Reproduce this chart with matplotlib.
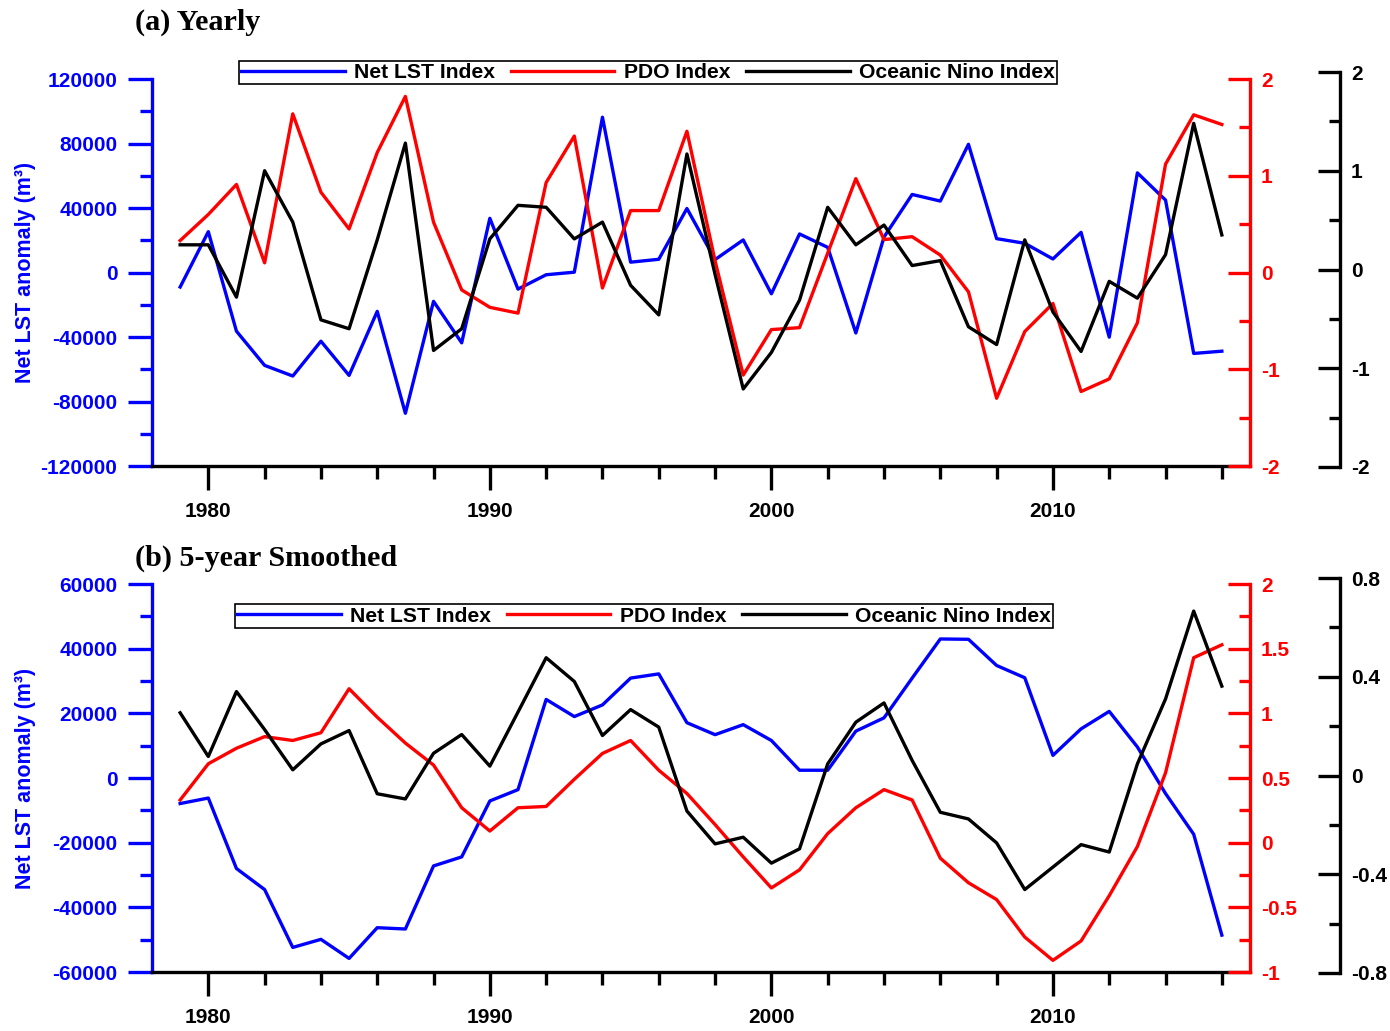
import numpy as np
import matplotlib.pyplot as plt
from matplotlib.ticker import MultipleLocator, FixedLocator, StrMethodFormatter

plt.rcParams['font.family'] = ['Liberation Sans', 'DejaVu Sans']
plt.rcParams['font.weight'] = 'bold'
plt.rcParams['axes.unicode_minus'] = False

years = np.arange(1979, 2017)

# yearly series
lst_yearly = [-9000, 25300, -36400, -57600, -64200, -42600, -63800, -24100, -87300, -17900,
              -43600, 33600, -10300, -1400, 200, 96300, 6400, 8200, 39700, 8000,
              20200, -13200, 23900, 15600, -37500, 22000, 48400, 44300, 79500, 21000,
              18100, 8400, 24900, -40100, 61800, 44900, -50200, -48800]
pdo_yearly = [0.33, 0.60, 0.91, 0.10, 1.64, 0.83, 0.45, 1.24, 1.82, 0.52,
              -0.18, -0.36, -0.42, 0.93, 1.41, -0.16, 0.64, 0.64, 1.46, 0.12,
              -1.06, -0.59, -0.57, 0.20, 0.97, 0.34, 0.37, 0.18, -0.20, -1.30,
              -0.61, -0.32, -1.23, -1.10, -0.52, 1.12, 1.63, 1.53]
oni_yearly = [0.25, 0.25, -0.28, 1.00, 0.48, -0.51, -0.60, 0.30, 1.28, -0.82,
              -0.60, 0.31, 0.65, 0.63, 0.31, 0.48, -0.16, -0.46, 1.17, -0.05,
              -1.21, -0.84, -0.31, 0.63, 0.25, 0.45, 0.04, 0.09, -0.58, -0.76,
              0.30, -0.43, -0.83, -0.12, -0.29, 0.15, 1.48, 0.35]

# 5-year smoothed series
lst_smooth = [-7900, -6200, -28000, -34500, -52400, -49900, -55800, -46300, -46700, -27200,
              -24400, -7100, -3600, 24300, 19000, 22600, 30900, 32200, 17100, 13400,
              16500, 11600, 2400, 2400, 14500, 18600, 30900, 43000, 42900, 34800,
              31000, 7000, 15200, 20600, 9600, -4800, -17400, -48600]
pdo_smooth = [0.33, 0.61, 0.73, 0.82, 0.79, 0.85, 1.19, 0.97, 0.77, 0.60,
              0.27, 0.09, 0.27, 0.28, 0.49, 0.69, 0.79, 0.56, 0.38, 0.14,
              -0.11, -0.35, -0.21, 0.07, 0.27, 0.41, 0.33, -0.12, -0.31, -0.44,
              -0.73, -0.91, -0.76, -0.41, -0.03, 0.54, 1.43, 1.53]
oni_smooth = [0.254, 0.077, 0.340, 0.186, 0.023, 0.128, 0.182, -0.074, -0.095, 0.090,
              0.166, 0.038, 0.257, 0.477, 0.381, 0.162, 0.267, 0.196, -0.144, -0.277,
              -0.250, -0.355, -0.297, 0.047, 0.216, 0.294, 0.061, -0.149, -0.176, -0.273,
              -0.462, -0.371, -0.280, -0.310, 0.047, 0.310, 0.666, 0.362]

labels = ['Net LST Index', 'PDO Index', 'Oceanic Nino Index']

W, H = 1390, 1031
fig = plt.figure(figsize=(W / 100, H / 100), dpi=100)

LW = 2.4
FS = 15
minor_years = [y for y in range(1982, 2017, 2) if y % 10 != 0]


def px_rect(left, top, right, bottom):
    return [left / W, 1 - bottom / H, (right - left) / W, (bottom - top) / H]


def panel(rect, rect_oni, lst, pdo, oni, lst_lim, lst_step, pdo_lim, pdo_step,
          oni_lim, oni_step, title, title_y, leg_xy):
    ax = fig.add_axes(rect)
    l1, = ax.plot(years, lst, color='blue', lw=LW)
    ax.set_xlim(1978, 2017)
    ax.set_ylim(*lst_lim)
    ax.yaxis.set_major_locator(MultipleLocator(lst_step))
    ax.yaxis.set_minor_locator(MultipleLocator(lst_step / 2))
    ax.yaxis.set_major_formatter(StrMethodFormatter('{x:.0f}'))
    ax.xaxis.set_major_locator(MultipleLocator(10))
    ax.xaxis.set_minor_locator(FixedLocator(minor_years))
    for s in ['top', 'right']:
        ax.spines[s].set_visible(False)
    ax.spines['left'].set_color('blue')
    ax.spines['left'].set_linewidth(LW)
    ax.spines['bottom'].set_linewidth(LW)
    ax.tick_params(axis='y', which='both', colors='blue', width=LW, labelsize=FS, pad=8)
    ax.tick_params(axis='y', which='major', length=17)
    ax.tick_params(axis='y', which='minor', length=9)
    ax.tick_params(axis='x', which='both', width=LW, labelsize=FS, pad=9)
    ax.tick_params(axis='x', which='major', length=17)
    ax.tick_params(axis='x', which='minor', length=9)
    ax.set_ylabel('Net LST anomaly (m³)', color='blue', fontsize=15.5, fontweight='bold')
    ax.yaxis.set_label_coords(-0.106, 0.5)

    ax2 = ax.twinx()
    l2, = ax2.plot(years, pdo, color='red', lw=LW)
    ax2.set_ylim(*pdo_lim)
    ax2.yaxis.set_major_locator(MultipleLocator(pdo_step))
    ax2.yaxis.set_minor_locator(MultipleLocator(pdo_step / 2))
    ax2.yaxis.set_major_formatter(StrMethodFormatter('{x:g}'))
    for s in ['top', 'left', 'bottom']:
        ax2.spines[s].set_visible(False)
    ax2.spines['right'].set_color('red')
    ax2.spines['right'].set_linewidth(LW)
    ax2.tick_params(axis='y', which='both', direction='in', colors='red', width=LW,
                    labelsize=FS, pad=8)
    ax2.tick_params(axis='y', which='major', length=16)
    ax2.tick_params(axis='y', which='minor', length=8)

    ax3 = fig.add_axes(rect_oni)
    ax3.patch.set_visible(False)
    l3, = ax3.plot(years, oni, color='black', lw=LW)
    ax3.set_xlim(1978, 2017)
    ax3.set_ylim(*oni_lim)
    ax3.xaxis.set_visible(False)
    ax3.yaxis.tick_right()
    ax3.yaxis.set_major_locator(MultipleLocator(oni_step))
    ax3.yaxis.set_minor_locator(MultipleLocator(oni_step / 2))
    ax3.yaxis.set_major_formatter(StrMethodFormatter('{x:g}'))
    for s in ['top', 'left', 'bottom']:
        ax3.spines[s].set_visible(False)
    ax3.spines['right'].set_position(('axes', (1340 - 152) / (1250 - 152)))
    ax3.spines['right'].set_linewidth(LW)
    ax3.tick_params(axis='y', which='both', direction='in', width=LW, labelsize=FS, pad=8)
    ax3.tick_params(axis='y', which='major', length=16)
    ax3.tick_params(axis='y', which='minor', length=8)

    fig.text(135 / W, 1 - title_y / H, title, family='Liberation Serif',
             fontweight='bold', fontsize=21.7, va='center', ha='left')

    leg = fig.legend([l1, l2, l3], labels, loc='center', ncol=3,
                     bbox_to_anchor=(leg_xy[0] / W, 1 - leg_xy[1] / H),
                     bbox_transform=fig.transFigure, fontsize=15.2, frameon=True,
                     fancybox=False, edgecolor='black', framealpha=1,
                     handlelength=4.9, handletextpad=0.45, columnspacing=0.75,
                     borderpad=0.1, borderaxespad=0)
    leg.get_frame().set_linewidth(1.2)


panel(px_rect(152, 79, 1250, 466), px_rect(152, 72, 1250, 467),
      lst_yearly, pdo_yearly, oni_yearly,
      (-120000, 120000), 40000, (-2, 2), 1, (-2, 2), 1,
      '(a) Yearly', 22, (648, 72.5))

panel(px_rect(152, 584, 1250, 972), px_rect(152, 578, 1250, 973),
      lst_smooth, pdo_smooth, oni_smooth,
      (-60000, 60000), 20000, (-1, 2), 0.5, (-0.8, 0.8), 0.4,
      '(b) 5-year Smoothed', 558, (644, 616))

fig.savefig('out.png', dpi=100)
